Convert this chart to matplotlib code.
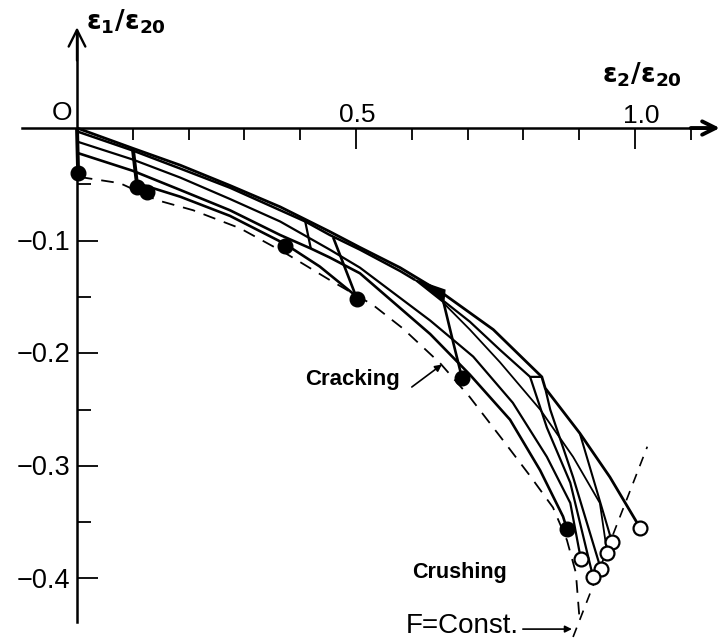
import matplotlib
matplotlib.use("Agg")
import matplotlib.pyplot as plt
from matplotlib.ticker import FixedLocator

# ---------------- data (strain ratios) ----------------
# outermost loading path (ends at crushing point)
l1_x = [0, 0.100, 0.185, 0.274, 0.364, 0.453, 0.507, 0.579, 0.656, 0.746, 0.833, 0.839, 0.901, 0.955, 1.009]
l1_y = [0, -0.018, -0.033, -0.051, -0.070, -0.092, -0.106, -0.124, -0.147, -0.179, -0.221, -0.231, -0.271, -0.310, -0.355]
# path running just under the outer one (double line) up to the dark wedge
l2_x = [0, 0.100, 0.185, 0.274, 0.364, 0.409, 0.453, 0.507, 0.579, 0.606]
l2_y = [-0.003, -0.020, -0.036, -0.053, -0.073, -0.083, -0.095, -0.108, -0.127, -0.135]
# dark wedge
wedge_x = [0.606, 0.659, 0.657]
wedge_y = [-0.135, -0.144, -0.155]
# continuation after the wedge to the corner
l2b_x = [0.658, 0.704, 0.758, 0.812, 0.833]
l2b_y = [-0.154, -0.172, -0.197, -0.221, -0.221]
# thin inner curve from wedge
u_x = [0.656, 0.704, 0.758, 0.830, 0.889, 0.937, 0.950]
u_y = [-0.155, -0.179, -0.208, -0.250, -0.292, -0.333, -0.377]
# steep post-cracking branches
s1_x = [0.812, 0.842, 0.884, 0.925]
s1_y = [-0.221, -0.266, -0.315, -0.399]
s2_x = [0.839, 0.848, 0.889, 0.939]
s2_y = [-0.231, -0.250, -0.310, -0.392]
s3_x = [0.901, 0.959]
s3_y = [-0.271, -0.368]
# middle pair of paths
m1_x = [0, 0.100, 0.185, 0.274, 0.364, 0.453, 0.507, 0.633, 0.710, 0.781, 0.842, 0.884, 0.903]
m1_y = [-0.012, -0.028, -0.044, -0.063, -0.083, -0.108, -0.124, -0.171, -0.203, -0.244, -0.292, -0.333, -0.383]
m2_x = [0, 0.100, 0.185, 0.274, 0.364, 0.419, 0.453, 0.507, 0.633, 0.704, 0.776, 0.830, 0.871, 0.878]
m2_y = [-0.022, -0.038, -0.055, -0.073, -0.095, -0.107, -0.115, -0.129, -0.183, -0.219, -0.259, -0.304, -0.345, -0.356]
# lowest path
lo_x = [0.108, 0.185, 0.274, 0.373, 0.435, 0.502]
lo_y = [-0.049, -0.061, -0.078, -0.103, -0.123, -0.150]
# short steep segments (strain jumps)
v0_x, v0_y = [0, 0.002], [0, -0.040]
v1_x, v1_y = [0.100, 0.108], [-0.018, -0.052]
k1_x, k1_y = [0.409, 0.419], [-0.083, -0.107]
k2_x, k2_y = [0.459, 0.502], [-0.097, -0.152]
k3_x, k3_y = [0.656, 0.674, 0.690], [-0.153, -0.190, -0.222]
# cracking points (filled) and crushing points (open)
crack_x = [0.002, 0.108, 0.125, 0.373, 0.502, 0.690, 0.878]
crack_y = [-0.040, -0.052, -0.057, -0.105, -0.152, -0.222, -0.356]
crush_x = [1.009, 0.959, 0.950, 0.903, 0.939, 0.925]
crush_y = [-0.355, -0.368, -0.377, -0.383, -0.392, -0.399]
# dashed envelope
env_x = [0.005, 0.077, 0.143, 0.208, 0.292, 0.373, 0.453, 0.530, 0.584, 0.651, 0.704, 0.763, 0.812, 0.853, 0.878, 0.894, 0.900]
env_y = [-0.0435, -0.049, -0.064, -0.073, -0.089, -0.111, -0.135, -0.157, -0.178, -0.209, -0.239, -0.277, -0.309, -0.337, -0.366, -0.395, -0.4325]
# F = const line
fc_x = [0.889, 1.022]
fc_y = [-0.452, -0.283]

x_major = [0.5, 1.0]
x_minor = [0.1, 0.2, 0.3, 0.4, 0.6, 0.7, 0.8, 0.9, 1.1]
y_major = [-0.1, -0.2, -0.3, -0.4]
y_minor = [-0.05, -0.15, -0.25, -0.35]
y_labels = ["\u22120.1", "\u22120.2", "\u22120.3", "\u22120.4"]

# ---------------- figure ----------------
FONT = ["Liberation Sans", "DejaVu Sans"]
plt.rcParams["font.family"] = FONT
plt.rcParams["mathtext.fontset"] = "dejavusans"

fig = plt.figure(figsize=(7.21, 6.39), dpi=100)
ax = fig.add_axes([0, 0, 1, 1])
ax.set_xlim(-0.138, 1.1541)
ax.set_ylim(-0.4538, 0.1137)

# axes through origin
for s in ["top", "right"]:
    ax.spines[s].set_visible(False)
ax.spines["left"].set_position(("data", 0))
ax.spines["bottom"].set_position(("data", 0))
ax.spines["left"].set_bounds(-0.439, 0.085)
ax.spines["bottom"].set_bounds(-0.099, 1.13)
ax.spines["left"].set_linewidth(1.8)
ax.spines["bottom"].set_linewidth(1.8)
ax.xaxis.set_major_locator(FixedLocator(x_major))
ax.xaxis.set_minor_locator(FixedLocator(x_minor))
ax.yaxis.set_major_locator(FixedLocator(y_major))
ax.yaxis.set_minor_locator(FixedLocator(y_minor))
ax.tick_params(axis="x", which="major", direction="out", length=15, width=1.3, labelbottom=False)
ax.tick_params(axis="x", which="minor", direction="out", length=8.5, width=1.3)
ax.tick_params(axis="y", which="major", direction="in", length=15, width=1.3, labelleft=False)
ax.tick_params(axis="y", which="minor", direction="in", length=10, width=1.3)

# arrow heads
ax.annotate("", xy=(1.152, 0), xytext=(1.10, 0),
            arrowprops=dict(arrowstyle="->", lw=2.8, color="k", mutation_scale=24,
                            shrinkA=0, shrinkB=0))
ax.annotate("", xy=(0, 0.0895), xytext=(0, 0.06),
            arrowprops=dict(arrowstyle="->", lw=1.7, color="k", mutation_scale=30,
                            shrinkA=0, shrinkB=0))

# tick labels
ax.text(-0.027, 0.0133, "O", fontsize=19, ha="center", va="center")
ax.text(0.502, 0.0115, "0.5", fontsize=19, ha="center", va="center")
ax.text(1.011, 0.0107, "1.0", fontsize=19, ha="center", va="center")
for v, lab in zip(y_major, y_labels):
    ax.text(-0.0125, v - 0.002, lab, fontsize=19.5, ha="right", va="center")

# axis titles
ax.text(0.088, 0.094, r"$\mathbf{\varepsilon_1/\varepsilon_{20}}$", fontsize=19, ha="center", va="center")
ax.text(1.013, 0.047, r"$\mathbf{\varepsilon_2/\varepsilon_{20}}$", fontsize=19, ha="center", va="center")

# curves
kw = dict(color="k", solid_joinstyle="miter", solid_capstyle="butt")
ax.plot(l1_x, l1_y, lw=2.0, **kw)
ax.plot(l2_x, l2_y, lw=1.8, **kw)
ax.fill(wedge_x, wedge_y, color="k", lw=1.2)
ax.plot(l2b_x, l2b_y, lw=1.6, **kw)
ax.plot(u_x, u_y, lw=1.3, **kw)
ax.plot(s1_x, s1_y, lw=1.6, **kw)
ax.plot(s2_x, s2_y, lw=1.6, **kw)
ax.plot(s3_x, s3_y, lw=1.5, **kw)
ax.plot(m1_x, m1_y, lw=1.6, **kw)
ax.plot(m2_x, m2_y, lw=1.9, **kw)
ax.plot(lo_x, lo_y, lw=1.9, **kw)
for sx, sy, w in [(v0_x, v0_y, 2.8), (v1_x, v1_y, 2.8), (k1_x, k1_y, 1.6),
                  (k2_x, k2_y, 1.9), (k3_x, k3_y, 1.9)]:
    ax.plot(sx, sy, lw=w, **kw)

ax.plot(env_x, env_y, color="k", lw=1.3, dashes=(7, 5))
ax.plot(fc_x, fc_y, color="k", lw=1.2, dashes=(6, 5))

ax.plot(crack_x, crack_y, "o", ms=10.5, color="k", zorder=5)
ax.plot(crush_x, crush_y, "o", ms=10, mfc="white", mec="k", mew=1.6, zorder=6)

# annotations
ax.text(0.493, -0.223, "Cracking", fontsize=16, fontweight="bold", ha="center", va="center")
ax.annotate("", xy=(0.654, -0.210), xytext=(0.600, -0.230),
            arrowprops=dict(arrowstyle="-|>", lw=1.2, color="k", mutation_scale=10,
                            shrinkA=0, shrinkB=0))
ax.text(0.685, -0.395, "Crushing", fontsize=15.5, fontweight="bold", ha="center", va="center")
ax.text(0.690, -0.442, "F=Const.", fontsize=20, ha="center", va="center")
ax.annotate("", xy=(0.887, -0.445), xytext=(0.799, -0.445),
            arrowprops=dict(arrowstyle="-|>", lw=1.2, color="k", mutation_scale=10,
                            shrinkA=0, shrinkB=0))

fig.savefig("out.png", dpi=100)
